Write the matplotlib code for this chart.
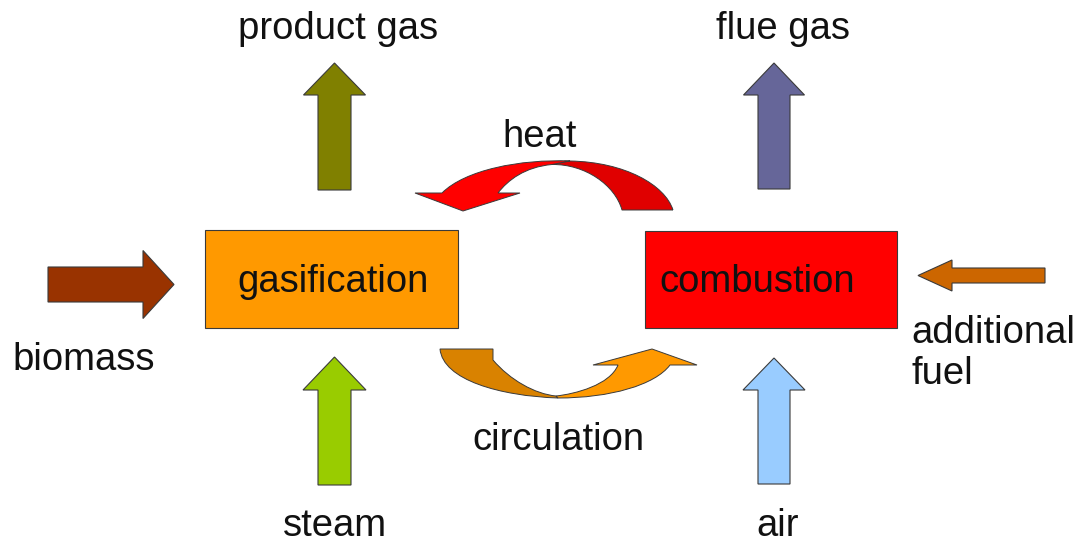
import matplotlib.pyplot as plt
from matplotlib.patches import Polygon, Rectangle, PathPatch
from matplotlib.path import Path

plt.rcParams['font.family'] = ['Liberation Sans', 'DejaVu Sans']

# process boxes
box_labels = ['gasification', 'combustion']
box_colors = ['#FF9900', '#FF0000']

# straight arrows: label, colour
up_labels = ['product gas', 'flue gas', 'steam', 'air']
up_colors = ['#808000', '#666699', '#99CC00', '#99CCFF']
side_labels = ['biomass', 'additional', 'fuel']
side_colors = ['#993300', '#CC6600']

# curved arrows
curve_labels = ['heat', 'circulation']
heat_colors = ['#FF0000', '#E00000']
circ_colors = ['#D98200', '#FF9900']

EDGE = '#3a3a3a'
FS = 27.5

fig = plt.figure(figsize=(10.81, 5.42), dpi=100)
ax = fig.add_axes([0, 0, 1, 1])
ax.set_xlim(0, 1081)
ax.set_ylim(542, 0)
ax.axis('off')


def up_arrow(xc, bottom, tip, head_base, shaft_w, head_w, color):
    pts = [(xc - shaft_w / 2, bottom), (xc - shaft_w / 2, head_base),
           (xc - head_w / 2, head_base), (xc, tip),
           (xc + head_w / 2, head_base), (xc + shaft_w / 2, head_base),
           (xc + shaft_w / 2, bottom)]
    ax.add_patch(Polygon(pts, closed=True, fc=color, ec=EDGE, lw=0.8))


def side_arrow(yc, tail, tip, head_base, shaft_h, head_h, color):
    pts = [(tail, yc - shaft_h / 2), (head_base, yc - shaft_h / 2),
           (head_base, yc - head_h / 2), (tip, yc),
           (head_base, yc + head_h / 2), (head_base, yc + shaft_h / 2),
           (tail, yc + shaft_h / 2)]
    ax.add_patch(Polygon(pts, closed=True, fc=color, ec=EDGE, lw=0.8))


def bez(pts, codes, color):
    ax.add_patch(PathPatch(Path(pts, codes), fc=color, ec=EDGE, lw=0.7))


M, L, C, Z = Path.MOVETO, Path.LINETO, Path.CURVE4, Path.CLOSEPOLY

# boxes
ax.add_patch(Rectangle((205, 230), 253, 98, fc=box_colors[0], ec=EDGE, lw=0.8))
ax.add_patch(Rectangle((645, 231), 252, 97, fc=box_colors[1], ec=EDGE, lw=0.8))
ax.text(333, 292, box_labels[0], ha='center', va='baseline', fontsize=FS, color='#111111')
ax.text(757, 292, box_labels[1], ha='center', va='baseline', fontsize=FS, color='#111111')

# vertical arrows
up_arrow(334.5, 190, 63, 95, 33, 62, up_colors[0])
up_arrow(774, 189, 63, 95, 32, 61, up_colors[1])
up_arrow(334.5, 485, 357, 390, 33, 63, up_colors[2])
up_arrow(774, 484, 358, 390, 32, 62, up_colors[3])

# horizontal arrows
side_arrow(284.5, 48, 174, 143, 35, 68, side_colors[0])
side_arrow(275.5, 1045, 918, 952, 15, 31, side_colors[1])

# heat arrow (two tones)
bez([(673, 210), (665, 185), (625, 162), (570, 161),
     (565, 161), (560, 163), (552, 164.5),
     (585, 164), (615, 185), (622, 210), (673, 210)],
    [M, C, C, C, L, L, L, C, C, C, L], heat_colors[1])
bez([(570, 161), (520, 159), (465, 170), (442, 193),
     (415, 193), (463, 211), (520, 193), (498, 193),
     (508, 180), (525, 167), (552, 164.5), (570, 161)],
    [M, C, C, C, L, L, L, L, C, C, C, L], heat_colors[0])

# circulation arrow (two tones)
bez([(440, 349), (493, 349), (493, 360),
     (510, 380), (535, 394), (556, 396),
     (558, 398), (500, 396), (443, 380), (440, 349), (440, 349)],
    [M, L, L, C, C, C, L, C, C, C, Z], circ_colors[0])
bez([(556, 396), (575, 394), (610, 385), (618, 365),
     (593, 365), (652, 349), (697, 365), (670, 365),
     (655, 385), (610, 398), (558, 398), (556, 396)],
    [M, C, C, C, L, L, L, L, C, C, C, Z], circ_colors[1])

# labels
txt = dict(fontsize=FS, color='#111111', va='baseline')
ax.text(338, 39, up_labels[0], ha='center', **txt)
ax.text(783, 39, up_labels[1], ha='center', **txt)
ax.text(335, 536, up_labels[2], ha='center', **txt)
ax.text(778, 536, up_labels[3], ha='center', **txt)
ax.text(12, 370, side_labels[0], ha='left', **txt)
ax.text(911, 343, side_labels[1], ha='left', **txt)
ax.text(911, 384, side_labels[2], ha='left', **txt)
ax.text(540, 147, curve_labels[0], ha='center', **txt)
ax.text(558, 450, curve_labels[1], ha='center', **txt)

fig.savefig('out.png', dpi=100, facecolor='white')
